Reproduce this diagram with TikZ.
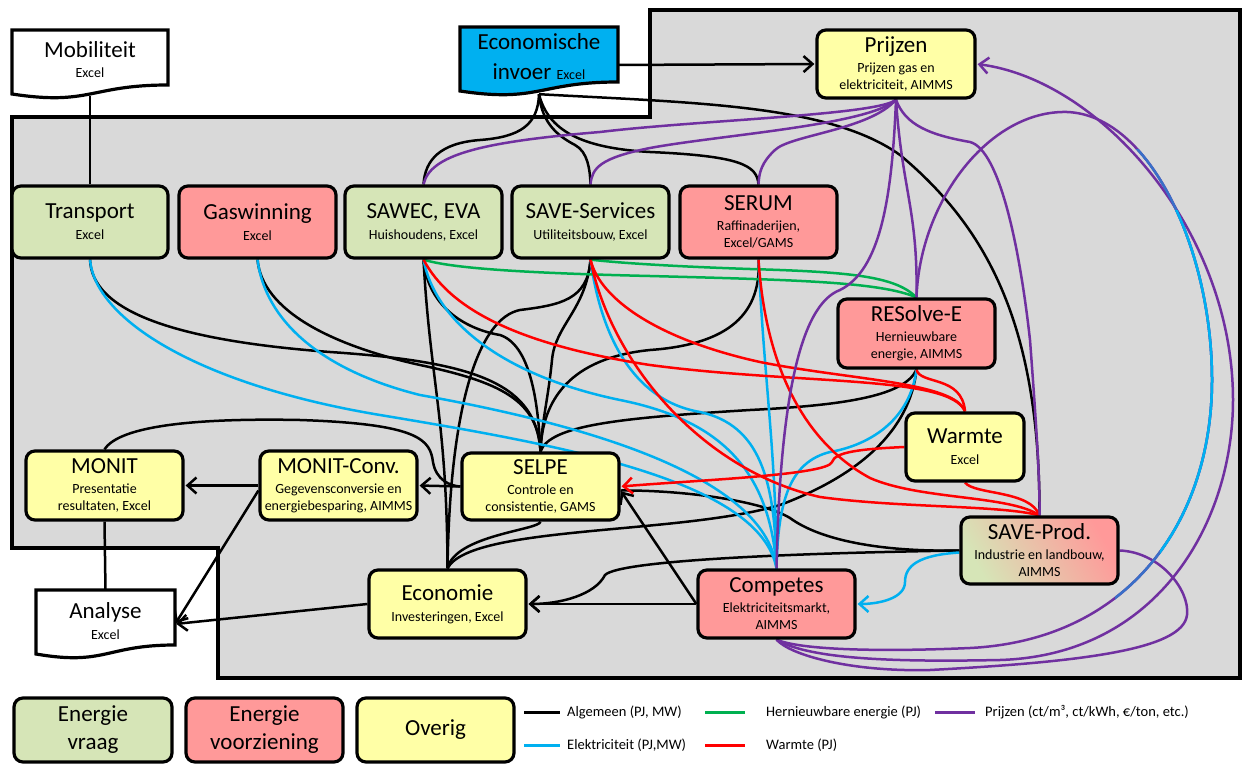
\documentclass[tikz,border=0pt]{standalone}
\usepackage{fontspec}
\setmainfont{Carlito}
\usetikzlibrary{arrows.meta,calc}
\definecolor{gfill}{RGB}{214,229,183}
\definecolor{rfill}{RGB}{255,153,153}
\definecolor{yfill}{RGB}{255,255,166}
\definecolor{greybg}{RGB}{217,217,217}
\definecolor{cyanfill}{RGB}{0,176,240}
\definecolor{ecol}{RGB}{0,176,240}
\definecolor{rencol}{RGB}{0,176,80}
\definecolor{hcol}{RGB}{255,0,0}
\definecolor{pcol}{RGB}{112,48,160}
\pgfdeclarelayer{bg}\pgfdeclarelayer{conn}
\pgfsetlayers{bg,conn,main}
\newcommand\ttl[1]{{\fontsize{23}{28}\selectfont #1}}
\newcommand\docshape[4]{%
  \draw[line width=3.2pt, fill=#4] (#1,#2) -- (#3,#2) -- (#3,{#2+55})
    .. controls ({(#1+#3)/2},{#2+55}) and ({(#1+#3)/2},{#2+76}) .. (#1,{#2+64}) -- cycle;}
\tikzset{
  box/.style={draw, line width=3.2pt, rounded corners=9pt, minimum width=157pt,
    minimum height=70pt, inner sep=0pt, align=center, font=\fontsize{14}{17}\selectfont},
  gbox/.style={box, fill=gfill}, rbox/.style={box, fill=rfill}, ybox/.style={box, fill=yfill},
  docnode/.style={inner sep=0pt, align=center, minimum width=150pt, font=\fontsize{14}{17}\selectfont},
  con/.style={line width=2.5pt},
  alg/.style={con, black}, ele/.style={con, ecol}, ren/.style={con, rencol},
  heat/.style={con, hcol}, pri/.style={con, pcol},
  arr/.style={-{Straight Barb[length=9pt,width=16pt]}, shorten >=1pt},
  lgtxt/.style={anchor=west, inner sep=0pt, font=\fontsize{14.5}{16}\selectfont},
  swatch/.style={line width=3pt},
}
\begin{document}
\begin{tikzpicture}[x=1pt,y=-1pt]
\useasboundingbox (0,0) rectangle (1243,765);
\begin{pgfonlayer}{bg}
\fill[white] (0,0) rectangle (1243,765);
\draw[line width=3.2pt, fill=greybg] (12,117) -- (650,117) -- (650,10) -- (1240,10) -- (1240,678) -- (218,678) -- (218,548) -- (12,548) -- cycle;
\end{pgfonlayer}

% document shapes
\docshape{12}{30}{168}{white}
\docshape{460}{27}{618}{cyanfill}
\docshape{36}{590}{175}{white}
\node[docnode, minimum height=72pt] (mob) at (90,60) {\ttl{Mobiliteit}\\[3pt]Excel};
\node[docnode, minimum height=74pt, font=\fontsize{23}{30}\selectfont] (einv) at (539,57) {Economische\\invoer {\fontsize{14}{17}\selectfont Excel}};
\node[docnode, minimum height=60pt, minimum width=139pt] (analyse) at (105.5,621) {\ttl{Analyse}\\[4pt]Excel};

% boxes
\node[gbox, minimum width=156pt, minimum height=72pt] (transport) at (90,222) {\ttl{Transport}\\[4pt]Excel};
\node[rbox, minimum height=72pt] (gas) at (257.5,222) {\ttl{Gaswinning}\\[4pt]Excel};
\node[gbox, minimum height=72pt] (sawec) at (423.5,222) {\ttl{SAWEC, EVA}\\[4pt]Huishoudens, Excel};
\node[gbox, minimum height=72pt] (services) at (590.5,222) {\ttl{SAVE-Services}\\[4pt]Utiliteitsbouw, Excel};
\node[rbox, minimum height=72pt] (serum) at (758.5,222) {\ttl{SERUM}\\[3pt]Raffinaderijen,\\Excel/GAMS};
\node[ybox, minimum width=158pt, minimum height=68pt] (prijzen) at (896,64) {\ttl{Prijzen}\\[3pt]Prijzen gas en\\elektriciteit, AIMMS};
\node[rbox, minimum height=69pt] (resolve) at (916.5,333.5) {\ttl{RESolve-E}\\[3pt]Hernieuwbare\\energie, AIMMS};
\node[ybox, minimum width=118pt, minimum height=68pt] (warmte) at (965,447) {\ttl{Warmte}\\[4pt]Excel};
\node[box, minimum height=67pt, top color=rfill, bottom color=gfill, shading angle=-60] (saveprod) at (1039.5,550.5) {\ttl{SAVE-Prod.}\\[3pt]Industrie en landbouw,\\AIMMS};
\node[ybox, minimum height=69pt] (monit) at (104.5,485.5) {\ttl{MONIT}\\[3pt]Presentatie\\resultaten, Excel};
\node[ybox, minimum height=69pt] (monitconv) at (338.5,485.5) {\ttl{MONIT-Conv.}\\[3pt]Gegevensconversie en\\energiebesparing, AIMMS};
\node[ybox, minimum height=67pt] (selpe) at (540.5,486.5) {\ttl{SELPE}\\[3pt]Controle en\\consistentie, GAMS};
\node[ybox, minimum height=68pt] (economie) at (447.5,604) {\ttl{Economie}\\[4pt]Investeringen, Excel};
\node[rbox, minimum height=68pt] (competes) at (776.5,604) {\ttl{Competes}\\[3pt]Elektriciteitsmarkt,\\AIMMS};

% legend
\node[gbox, minimum width=158pt, minimum height=64pt, font=\fontsize{23}{28}\selectfont] (lg1) at (93,730) {Energie\\vraag};
\node[rbox, minimum height=64pt, font=\fontsize{23}{28}\selectfont] (lg2) at (264.5,730) {Energie\\voorziening};
\node[ybox, minimum height=64pt, font=\fontsize{23}{28}\selectfont] (lg3) at (435.5,730) {Overig};
\draw[swatch, black] (524,712) -- (560,712);
\node[lgtxt] (lt1) at (567,712) {Algemeen (PJ, MW)};
\draw[swatch, rencol] (705,712) -- (745,712);
\node[lgtxt] (lt2) at (766,712) {Hernieuwbare energie (PJ)};
\draw[swatch, pcol] (935,712) -- (975,712);
\node[lgtxt] (lt3) at (985,712) {Prijzen (ct/m³, ct/kWh, €/ton, etc.)};
\draw[swatch, ecol] (524,745) -- (560,745);
\node[lgtxt] (lt4) at (567,745) {Elektriciteit (PJ,MW)};
\draw[swatch, hcol] (705,745) -- (745,745);
\node[lgtxt] (lt5) at (766,745) {Warmte (PJ)};

\begin{pgfonlayer}{conn}
% ---------- black ----------
\draw[alg] (mob.south) -- (transport.north);
\draw[alg,arr] ([yshift=-8pt]einv.east) -- (prijzen.west);
\draw[alg] (einv.south) .. controls (538,125) and (520,137) .. (480,140) .. controls (440,143) and (425,160) .. (sawec.north);
\draw[alg] (einv.south) .. controls (542,125) and (560,137) .. (575,145) .. controls (588,152) and (590,170) .. (services.north);
\draw[alg] (einv.south) .. controls (548,130) and (580,148) .. (650,152) .. controls (740,156) and (757,165) .. (serum.north);
\draw[alg] (einv.south) .. controls (700,103) and (830,105) .. (900,155) .. controls (990,230) and (1040,330) .. (saveprod.north);
\draw[alg] (transport.south) .. controls (92,310) and (170,340) .. (330,352) .. controls (480,362) and (536,385) .. (selpe.north);
\draw[alg] (gas.south) .. controls (262,310) and (330,345) .. (420,365) .. controls (500,382) and (538,400) .. (selpe.north);
\draw[alg] (sawec.south) .. controls (428,310) and (470,330) .. (500,335) .. controls (530,345) and (538,400) .. (selpe.north);
\draw[alg] (services.south) .. controls (586,310) and (555,325) .. (552,360) .. controls (548,400) and (542,420) .. (selpe.north);
\draw[alg] (serum.south) .. controls (762,320) and (720,345) .. (650,350) .. controls (570,358) and (542,400) .. (selpe.north);
\draw[alg] (resolve.south) .. controls (905,395) and (850,405) .. (750,410) .. controls (620,418) and (550,425) .. (selpe.north);
\draw[alg] (sawec.south) .. controls (430,380) and (447,420) .. (economie.north);
\draw[alg] (services.south) .. controls (588,300) and (560,305) .. (520,310) .. controls (480,318) and (450,400) .. (economie.north);
\draw[alg] (selpe.south) .. controls (540,530) and (455,535) .. (economie.north);
\draw[alg] (resolve.south) .. controls (910,430) and (860,475) .. (780,505) .. controls (680,535) and (470,525) .. (economie.north);
\draw[alg,arr] (competes.west) -- (economie.east);
\draw[alg,arr] (saveprod.west) .. controls (800,553) and (620,560) .. (605,575) .. controls (595,595) and (560,604) .. (economie.east);
\draw[alg,arr] (competes.west) -- ([yshift=-4pt]selpe.east);
\draw[alg] (saveprod.west) .. controls (880,552) and (820,540) .. (790,518) .. controls (760,500) and (680,490) .. ([yshift=-4pt]selpe.east);
\draw[alg,arr] (selpe.west) -- (monitconv.east);
\draw[alg,arr] (monitconv.west) -- (monit.east);
\draw[alg] (monit.north) .. controls (120,425) and (200,418) .. (300,420) .. controls (420,424) and (430,440) .. (433,462) .. controls (436,480) and (450,486) .. (selpe.west);
\draw[alg] (monit.south) -- (analyse.north);
\draw[alg,arr] ([yshift=-5pt]monitconv.west) -- ([yshift=-3pt]analyse.east);
\draw[alg,arr] (economie.west) -- ([yshift=-3pt]analyse.east);
% ---------- blue ----------
\draw[ele] (transport.south) .. controls (95,320) and (200,385) .. (380,415) .. controls (560,445) and (760,480) .. (competes.north);
\draw[ele] (gas.south) .. controls (265,320) and (320,370) .. (420,395) .. controls (560,420) and (765,470) .. (competes.north);
\draw[ele] (sawec.south) .. controls (435,320) and (500,375) .. (620,400) .. controls (720,420) and (770,470) .. (competes.north);
\draw[ele] (services.south) .. controls (600,330) and (630,400) .. (700,412) .. controls (760,425) and (775,480) .. (competes.north);
\draw[ele] (serum.south) .. controls (764,380) and (776,450) .. (competes.north);
\draw[ele] (resolve.south) .. controls (910,420) and (870,445) .. (830,452) .. controls (790,462) and (778,500) .. (competes.north);
\draw[ele,arr] ([yshift=-2pt]saveprod.west) .. controls (920,555) and (905,565) .. (905,582) .. controls (905,598) and (880,604) .. (competes.east);
% ---------- green ----------
\draw[ren] (sawec.south) .. controls (450,268) and (520,273) .. (650,276) .. controls (800,280) and (880,282) .. (resolve.north);
\draw[ren] (services.south) .. controls (610,262) and (660,266) .. (750,269) .. controls (850,272) and (895,276) .. (resolve.north);
% ---------- red ----------
\draw[heat] (sawec.south) .. controls (450,310) and (520,345) .. (650,365) .. controls (800,385) and (950,375) .. (warmte.north);
\draw[heat] (services.south) .. controls (600,300) and (660,340) .. (760,362) .. controls (850,380) and (955,382) .. (warmte.north);
\draw[heat] (resolve.south) .. controls (920,385) and (962,375) .. (warmte.north);
\draw[heat] (services.south) .. controls (610,360) and (700,470) .. (820,497) .. controls (900,508) and (1000,505) .. (saveprod.north);
\draw[heat] (serum.south) .. controls (765,360) and (800,440) .. (870,478) .. controls (920,500) and (1010,495) .. (saveprod.north);
\draw[heat] (warmte.south) .. controls (975,495) and (1030,490) .. (saveprod.north);
\draw[heat,arr] (warmte.west) .. controls (860,449) and (835,452) .. (832,462) .. controls (828,475) and (700,480) .. (selpe.east);
% ---------- purple ----------
\draw[pri] (prijzen.south) .. controls (880,115) and (700,120) .. (600,132) .. controls (480,142) and (430,155) .. (sawec.north);
\draw[pri] (prijzen.south) .. controls (870,125) and (720,135) .. (650,148) .. controls (600,158) and (592,168) .. (services.north);
\draw[pri] (prijzen.south) .. controls (870,130) and (790,135) .. (775,150) .. controls (762,162) and (759,172) .. (serum.north);
\draw[pri] (prijzen.south) .. controls (902,190) and (918,210) .. (resolve.north);
\draw[pri] (prijzen.south) .. controls (892,200) and (880,270) .. (840,290) .. controls (800,305) and (780,400) .. (competes.north);
\draw[pri] (prijzen.south) .. controls (905,125) and (930,135) .. (970,142) .. controls (1000,150) and (1020,250) .. (1030,340) .. controls (1036,420) and (1040,480) .. (saveprod.north);
\draw[pri,arr] (competes.south) .. controls (810,660) and (900,662) .. (1000,660) .. controls (1160,655) and (1233,520) .. (1233,400) .. controls (1233,230) and (1100,80) .. (prijzen.east);
\draw[pri] (saveprod.east) .. controls (1160,552) and (1190,590) .. (1187,615) .. controls (1183,650) and (1080,662) .. (930,670) .. controls (850,672) and (790,655) .. (competes.south);
\draw[pri] (resolve.north) .. controls (920,200) and (990,110) .. (1067,112) .. controls (1150,115) and (1212,250) .. (1212,380) .. controls (1212,520) and (1130,640) .. (970,648) .. controls (880,652) and (800,650) .. (competes.south);
\begin{scope}
\clip (1115,150) rectangle (1243,615);
\draw[con, pcol!50!ecol] (resolve.north) .. controls (920,200) and (990,110) .. (1067,112) .. controls (1150,115) and (1212,250) .. (1212,380) .. controls (1212,520) and (1130,640) .. (970,648) .. controls (880,652) and (800,650) .. (competes.south);
\end{scope}
\begin{scope}
\clip (1160,210) rectangle (1243,575);
\draw[ele] (resolve.north) .. controls (920,200) and (990,110) .. (1067,112) .. controls (1150,115) and (1212,250) .. (1212,380) .. controls (1212,520) and (1130,640) .. (970,648) .. controls (880,652) and (800,650) .. (competes.south);
\end{scope}
\end{pgfonlayer}
\end{tikzpicture}
\end{document}
